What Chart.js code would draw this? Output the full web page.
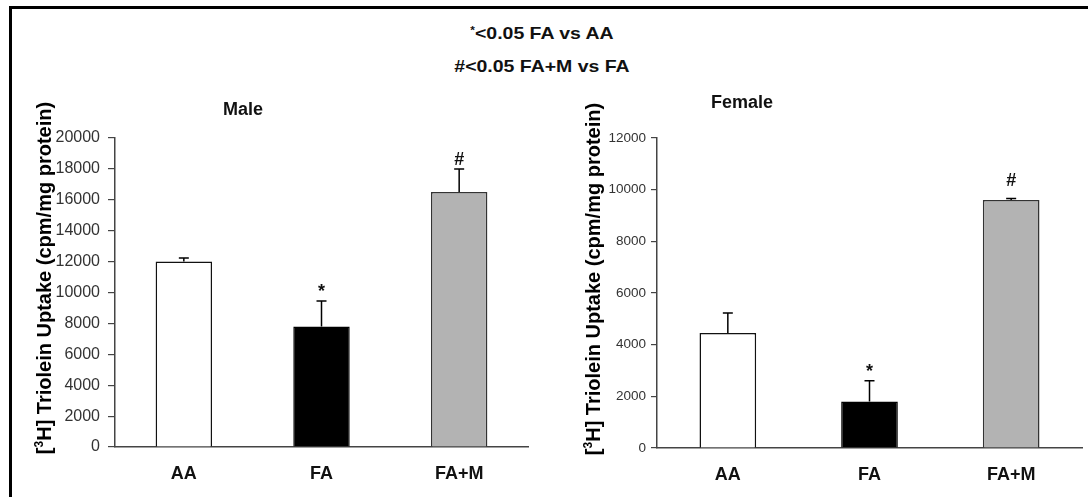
<!DOCTYPE html>
<html>
<head>
<meta charset="utf-8">
<script src="https://cdn.jsdelivr.net/npm/chart.js@4/dist/chart.umd.min.js"></script>
<style>
  html, body { margin: 0; padding: 0; background: #fff; }
  #wrap { position: relative; width: 1088px; height: 497px; overflow: hidden; background: #fff;
          font-family: "Liberation Sans", Arial, sans-serif; }
  #frame { position: absolute; left: 9px; top: 6px; width: 1100px; height: 520px;
           border-left: 3px solid #000; border-top: 3px solid #000; }
  .note { position: absolute; left: -2px; width: 1088px; text-align: center; font-weight: bold;
          font-size: 16.5px; color: #111; transform: scaleX(1.18); transform-origin: 544px 50%; }
  .note sup { font-size: 10px; vertical-align: 5px; }
  canvas { position: absolute; }
</style>
</head>
<body>
<div id="wrap">
  <div id="frame"></div>
  <div class="note" style="top:24px"><sup>*</sup>&lt;0.05 FA vs AA</div>
  <div class="note" style="top:57px">#&lt;0.05 FA+M vs FA</div>
  <canvas id="male" style="left:12px;top:80px;width:528px;height:417px" width="528" height="417"></canvas>
  <canvas id="female" style="left:545px;top:80px;width:543px;height:417px" width="543" height="417"></canvas>
</div>
<script>
const categories = ["AA", "FA", "FA+M"];
const maleValues = [12000, 7800, 16500];
const maleErrors = [230, 1650, 1500];
const femaleValues = [4450, 1800, 9600];
const femaleErrors = [780, 800, 60];
const marks = ["", "*", "#"];
const maleTicks = { min: 0, max: 20000, step: 2000 };
const femaleTicks = { min: 0, max: 12000, step: 2000 };
const yTitleParts = ["[", "3", "H] Triolein Uptake (cpm/mg protein)"];

const FONT = '"Liberation Sans", Arial, sans-serif';
const barFill = ["#ffffff", "#000000", "#b3b3b3"];
const barEdge = ["#111111", "#000000", "#333333"];

function makeChart(id, values, errors, ticks, cfg) {
  const errPlugin = {
    id: 'errbars',
    afterDatasetsDraw(chart) {
      const ctx = chart.ctx;
      const meta = chart.getDatasetMeta(0);
      const ys = chart.scales.y;
      ctx.save();
      ctx.strokeStyle = '#000';
      ctx.lineWidth = 1.5;
      values.forEach((v, i) => {
        const x = meta.data[i].x;
        const yb = ys.getPixelForValue(v);
        const yt = ys.getPixelForValue(v + errors[i]);
        ctx.beginPath();
        ctx.moveTo(x, yb); ctx.lineTo(x, yt);
        ctx.moveTo(x - cfg.cap, yt); ctx.lineTo(x + cfg.cap, yt);
        ctx.stroke();
        if (marks[i]) {
          ctx.fillStyle = '#111';
          ctx.font = 'bold 18px ' + FONT;
          ctx.textAlign = 'center';
          ctx.textBaseline = 'alphabetic';
          ctx.fillText(marks[i], x, yt - cfg.markGaps[i]);
        }
      });
      ctx.restore();
    },
    afterDraw(chart) {
      const ctx = chart.ctx;
      ctx.save();
      ctx.fillStyle = '#111';
      ctx.font = 'bold 18px ' + FONT;
      ctx.textAlign = 'center';
      ctx.textBaseline = 'middle';
      ctx.fillText(cfg.title, cfg.titleX, cfg.titleY);
      ctx.translate(cfg.yTitleX, cfg.yTitleY);
      ctx.rotate(-Math.PI / 2);
      const big = 'bold ' + cfg.yTitleSize + 'px ' + FONT;
      const small = 'bold ' + Math.round(cfg.yTitleSize * 0.6) + 'px ' + FONT;
      ctx.font = big;
      const w0 = ctx.measureText(yTitleParts[0]).width;
      const w2 = ctx.measureText(yTitleParts[2]).width;
      ctx.font = small;
      const w1 = ctx.measureText(yTitleParts[1]).width;
      let x0 = -(w0 + w1 + w2) / 2;
      ctx.textAlign = 'left';
      ctx.textBaseline = 'middle';
      ctx.fillStyle = '#000';
      ctx.font = big;
      ctx.fillText(yTitleParts[0], x0, 0);
      ctx.font = small;
      ctx.fillText(yTitleParts[1], x0 + w0, -cfg.yTitleSize * 0.28);
      ctx.font = big;
      ctx.fillText(yTitleParts[2], x0 + w0 + w1, 0);
      ctx.restore();
    }
  };

  return new Chart(document.getElementById(id), {
    type: 'bar',
    data: {
      labels: categories,
      datasets: [{
        data: values,
        backgroundColor: barFill,
        borderColor: barEdge,
        borderWidth: 1.5,
        categoryPercentage: 1,
        barPercentage: cfg.barPct
      }]
    },
    options: {
      responsive: false,
      animation: false,
      devicePixelRatio: 1,
      layout: { padding: { left: 0, right: cfg.padRight, top: cfg.padTop, bottom: 0 } },
      plugins: { legend: { display: false }, tooltip: { enabled: false }, title: { display: false } },
      scales: {
        x: {
          grid: { display: false, drawTicks: false },
          border: { display: true, color: '#444', width: 1.5 },
          ticks: { color: '#111', font: { family: FONT, size: 18, weight: 'bold' }, padding: cfg.xPad },
          afterFit(s) { s.height = cfg.xHeight; }
        },
        y: {
          min: ticks.min, max: ticks.max,
          ticks: { stepSize: ticks.step, color: '#333', font: { family: FONT, size: cfg.tickSize }, padding: cfg.tickPad,
                   callback: (v) => String(v) },
          grid: { display: true, drawOnChartArea: false, drawTicks: true, tickLength: cfg.tickLen, color: '#444', lineWidth: 1.2 },
          border: { display: true, color: '#444', width: 1.5 },
          afterFit(s) { s.width = cfg.yWidth; }
        }
      }
    },
    plugins: [errPlugin]
  });
}

makeChart('male', maleValues, maleErrors, maleTicks, {
  title: 'Male', titleX: 231, titleY: 30,
  yTitleX: 33, yTitleY: 198, yTitleSize: 20,
  barPct: 0.41, cap: 5, tickSize: 16, markGaps: [0, 4, 4], tickLen: 7, tickPad: 8,
  padRight: 12, padTop: 58, xHeight: 50, yWidth: 103, xPad: 16
});
makeChart('female', femaleValues, femaleErrors, femaleTicks, {
  title: 'Female', titleX: 197, titleY: 23,
  yTitleX: 49, yTitleY: 199, yTitleSize: 20,
  barPct: 0.40, cap: 5, tickSize: 13.5, markGaps: [0, 4, 12], tickLen: 6, tickPad: 5,
  padRight: 6, padTop: 58, xHeight: 49, yWidth: 112, xPad: 16
});
</script>
</body>
</html>
